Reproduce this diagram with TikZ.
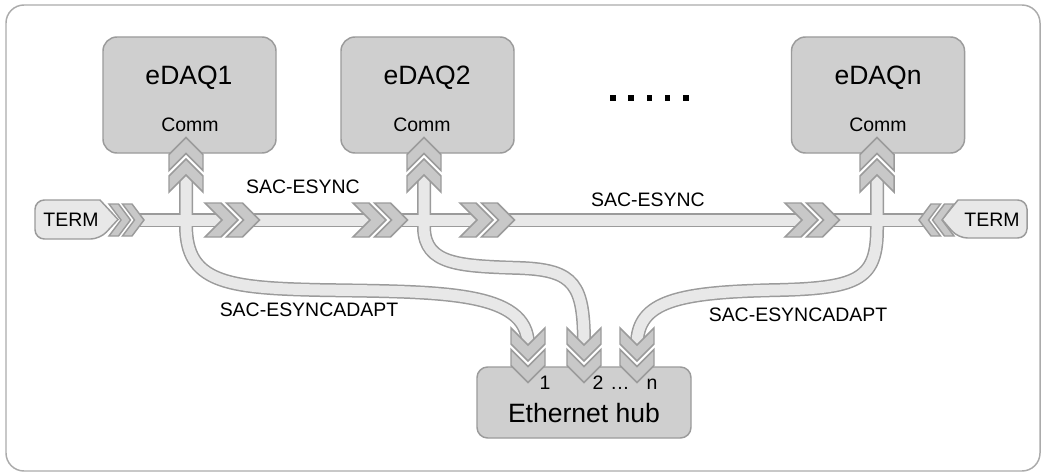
\documentclass[tikz,border=0pt]{standalone}
\usepackage{fontspec}
\setmainfont{Liberation Sans}
\definecolor{cabfill}{HTML}{E8E8E8}
\definecolor{cabline}{HTML}{9B9B9B}
\definecolor{boxfill}{HTML}{CFCFCF}
\definecolor{chevfill}{HTML}{C8C8C8}
\definecolor{framecol}{HTML}{ABABAB}
\tikzset{
  cableout/.style={line width=10.5pt, draw=cabline},
  cablein/.style={line width=8.25pt, draw=cabfill},
  chev/.style={fill=chevfill, draw=cabline, line width=1.1pt, line join=miter},
  devbox/.style={draw=cabline, fill=boxfill, line width=1.1pt, rounded corners=10.5pt, inner sep=0pt},
  termbox/.style={draw=cabline, fill=cabfill, line width=1.1pt},
  bigtext/.style={font=\fontsize{19.9}{24}\selectfont, inner sep=0pt},
  smalltext/.style={font=\fontsize{14.6}{17}\selectfont, inner sep=0pt},
}
% x y angle halfheight armlength offset tipdepth
\newcommand{\chevpair}[7]{%
  \begin{scope}[shift={(#1,#2)},rotate=#3]
    \path[chev] (0,-#4) -- (#5,-#4) -- ({#5+#7},0) -- (#5,#4) -- (0,#4) -- (#7,0) -- cycle;
    \path[chev] (#6,-#4) -- ({#6+#5},-#4) -- ({#6+#5+#7},0) -- ({#6+#5},#4) -- (#6,#4) -- ({#6+#7},0) -- cycle;
  \end{scope}}
\begin{document}
\begin{tikzpicture}[x=0.75pt,y=-0.75pt]
\useasboundingbox (0,0) rectangle (1044,474);
\draw[framecol, line width=1.1pt, rounded corners=13.5pt, fill=white] (6,5) rectangle (1040,471);

% device boxes
\node[devbox, minimum width=129.75pt, minimum height=87pt] (d1) at (189.5,95) {};
\node[devbox, minimum width=129.75pt, minimum height=87pt] (d2) at (427.5,95) {};
\node[devbox, minimum width=129.75pt, minimum height=87pt] (dn) at (878,95) {};
\node[devbox, minimum width=160.5pt, minimum height=53.25pt, rounded corners=8pt] (hub) at (584,402.5) {};

% TERM shapes
\draw[termbox] (118,219.5) -- (100,200) [rounded corners=7pt] -- (35,200) -- (35,239) -- (100,239) [sharp corners] -- cycle;
\draw[termbox] (942,219.5) -- (958,200) [rounded corners=7pt] -- (1027,200) -- (1027,238) -- (958,238) [sharp corners] -- cycle;

% cable coordinates
\coordinate (t1) at (186,175);  \coordinate (t2) at (424,175);  \coordinate (tn) at (877,175);
\coordinate (p1) at (528,345);  \coordinate (p2) at (584,345);  \coordinate (pn) at (637,345);
\coordinate (s1a) at (137,220); \coordinate (s1b) at (222,220);
\coordinate (s2a) at (252.5,220); \coordinate (s2b) at (370,220);
\coordinate (s3a) at (400.5,220); \coordinate (s3b) at (477,220);
\coordinate (s4a) at (507.5,220); \coordinate (s4b) at (802,220);
\coordinate (s5a) at (832.5,220); \coordinate (s5b) at (926,220);

\foreach \st in {cableout,cablein}{
  \draw[\st] (s1a) -- (s1b);
  \draw[\st] (s2a) -- (s2b);
  \draw[\st] (s3a) -- (s3b);
  \draw[\st] (s4a) -- (s4b);
  \draw[\st] (s5a) -- (s5b);
  \draw[\st] (t1) -- (186,225) .. controls (186,282) and (225,288) .. (320,290) .. controls (440,292) and (528,290) .. (p1);
  \draw[\st] (t2) -- (424,228) .. controls (425,265) and (460,266) .. (520,268) .. controls (575,270) and (584,285) .. (p2);
  \draw[\st] (tn) -- (877,228) .. controls (877,278) and (860,288) .. (780,290) .. controls (680,292) and (637,300) .. (pn);
}

% chevrons
\chevpair{109}{220}{0}{16}{9.5}{13.5}{12}
\chevpair{954}{220}{180}{16}{9.5}{13.5}{12}
\chevpair{205}{220}{0}{17}{16}{21.5}{17}
\chevpair{353}{220}{0}{17}{16}{21.5}{17}
\chevpair{460}{220}{0}{17}{16}{21.5}{17}
\chevpair{785}{220}{0}{17}{16}{21.5}{17}
\chevpair{186}{192}{90}{17}{16}{21.5}{17}
\chevpair{424}{192}{90}{17}{16}{21.5}{17}
\chevpair{877}{192}{90}{17}{16}{21.5}{17}
\chevpair{528}{328}{-90}{17}{16}{21.5}{17}
\chevpair{584}{328}{-90}{17}{16}{21.5}{17}
\chevpair{637}{328}{-90}{17}{16}{21.5}{17}

% dots
\foreach \k in {0,...,4}{
  \fill ({613+18.2*\k-2.85},95.15) rectangle ({613+18.2*\k+2.85},100.85);
}

% labels
\node[bigtext] (l1) at (189,78) {eDAQ1};
\node[bigtext] (l2) at (427,78) {eDAQ2};
\node[bigtext] (ln) at (878,78) {eDAQn};
\node[smalltext] (c1) at (190,125) {Comm};
\node[smalltext] (c2) at (422,125) {Comm};
\node[smalltext] (cn) at (878,125) {Comm};
\node[smalltext] (tl) at (71,219.5) {TERM};
\node[smalltext] (tr) at (992,219.5) {TERM};
\node[smalltext] (e1) at (303,187) {SAC-ESYNC};
\node[smalltext] (e2) at (648,200) {SAC-ESYNC};
\node[smalltext] (a1) at (309,310) {SAC-ESYNCADAPT};
\node[smalltext] (a2) at (798,315) {SAC-ESYNCADAPT};
\node[bigtext] (hl) at (584,413) {Ethernet hub};
\node[smalltext, anchor=base] (n1) at (545,389) {1};
\node[smalltext, anchor=base] (n2) at (598,389) {2};
\node[smalltext, anchor=base] (nd) at (620,389) {.\kern0.5pt.\kern0.5pt.};
\node[smalltext, anchor=base] (nn) at (652,389) {n};
\end{tikzpicture}
\end{document}
